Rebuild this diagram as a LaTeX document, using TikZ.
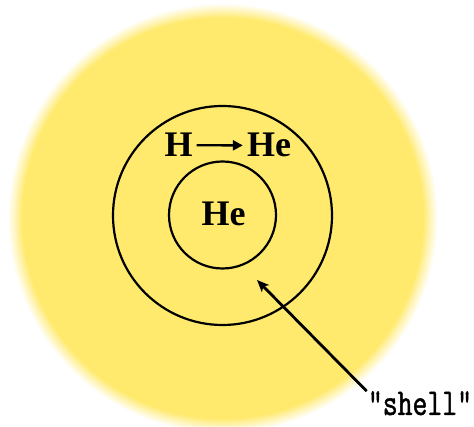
\documentclass[tikz,border=0pt]{standalone}
\usepackage{fontspec}
\setmainfont{Liberation Serif}
\newfontfamily\shellfont[FakeStretch=0.76,FakeBold=1.2]{Latin Modern Mono}
\usetikzlibrary{arrows.meta}
\definecolor{sunyellow}{RGB}{255,234,110}
\pgfdeclareradialshading{sunshade}{\pgfpoint{0bp}{0bp}}{%
  color(0bp)=(sunyellow); color(23.3bp)=(sunyellow); color(24.1bp)=(sunyellow!50!white); color(25bp)=(white); color(50bp)=(white)}
\tikzset{
  ring/.style={draw=black, line width=2.2pt},
  elem/.style={font=\bfseries\fontsize{36}{36}\selectfont, inner sep=0pt, anchor=base},
  label/.style={font=\shellfont\fontsize{38}{38}\selectfont, inner sep=0pt, anchor=base},
  pointer/.style={draw=black, line width=2.8pt, -{Stealth[length=12pt,width=10pt,inset=3pt]}},
  react/.style={draw=black, line width=2.4pt, -{Triangle[length=10pt,width=10pt]}, shorten <=4pt, shorten >=4pt}
}
\begin{document}
\begin{tikzpicture}[x=1pt,y=-1pt]
  \useasboundingbox (0,0) rectangle (474,427);
  \fill[white] (0,0) rectangle (474,427);
  \shade[shading=sunshade] (222.5,218) circle (215);
  \node[ring, circle, minimum size=219pt, inner sep=0pt] (outer) at (222.5,215.5) {};
  \node[ring, circle, minimum size=107pt, inner sep=0pt] (inner) at (222.5,215) {};
  \node[elem] (h) at (178.5,157) {H};
  \node[elem] (heout) at (269,157) {He};
  \draw[react] (h.east) -- (heout.west);
  \node[elem] (hein) at (223.5,226) {He};
  \coordinate (tip) at (257,280);
  \node[label] (shell) at (420,415) {"shell"};
  \draw[pointer] (shell.north west) ++(-1pt,0pt) coordinate (start) (start) -- (tip);
\end{tikzpicture}
\end{document}
